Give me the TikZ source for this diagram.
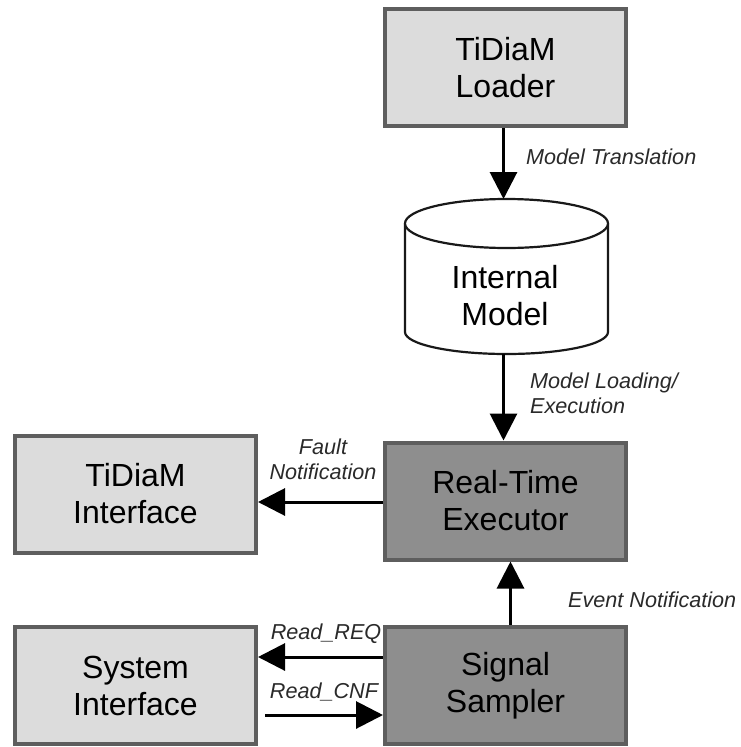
\documentclass[tikz,border=0pt]{standalone}
\usepackage{fontspec}
\setmainfont{Liberation Sans}
\usetikzlibrary{arrows.meta}
\definecolor{lightbox}{HTML}{DCDCDC}
\definecolor{darkbox}{HTML}{8E8E8E}
\definecolor{boxline}{HTML}{5E5E5E}
\definecolor{tagtext}{HTML}{2A2A2A}
\begin{document}
\begin{tikzpicture}[x=1pt,y=1pt,
  block/.style={draw=boxline, line width=4pt, minimum width=241pt,
    minimum height=117pt, align=center, inner sep=0pt,
    font=\fontsize{32}{37}\selectfont},
  lightblock/.style={block, fill=lightbox},
  darkblock/.style={block, fill=darkbox},
  flow/.style={line width=3pt, -{Triangle[width=27pt,length=27pt]}},
  tag/.style={font=\fontsize{21.6}{25}\selectfont\itshape, text=tagtext, inner sep=0pt},
  drum/.style={line width=2.2pt, draw=black!90}
]
\fill[white] (0,0) rectangle (741,-747);
\useasboundingbox (0,0) rectangle (741,-747);

% boxes
\node[lightblock] (loader)  at (505.5,-67.5) {TiDiaM\\Loader};
\node[darkblock]  (exec)    at (505.5,-501)  {Real-Time\\Executor};
\node[darkblock]  (sampler) at (505.5,-685.5){Signal\\Sampler};
\node[lightblock] (iface)   at (135.5,-494)  {TiDiaM\\Interface};
\node[lightblock] (sysif)   at (135.5,-685.5){System\\Interface};

% internal model store
\draw[drum, fill=white] (405,-223.5) -- (405,-332)
  arc[start angle=180, end angle=360, x radius=101.5, y radius=22] -- (608,-223.5);
\draw[drum, fill=white] (506.5,-223.5) ellipse[x radius=101.5, y radius=24.5];
\node[font=\fontsize{32}{37}\selectfont, align=center, inner sep=0pt] (model)
  at (505,-296) {Internal\\Model};
\coordinate (modeltop) at (503.5,-199);
\coordinate (modelbot) at (503.5,-354);

% connectors
\draw[flow] ([xshift=-2pt]loader.south) -- (modeltop);
\draw[flow] (modelbot) -- ([xshift=-2pt]exec.north);
\draw[flow] ([xshift=5pt]sampler.north) -- ([xshift=5pt]exec.south);
\draw[flow] ([yshift=-1pt]exec.west) -- ([yshift=-8pt]iface.east);
\draw[flow] ([yshift=28.5pt]sampler.west) -- ([yshift=28.5pt]sysif.east);
\draw[flow] ([xshift=7pt,yshift=-29.5pt]sysif.east) -- ([yshift=-29.5pt]sampler.west);

% connector labels
\node[tag, anchor=west] (ltrans) at (526,-157) {Model Translation};
\node[tag, anchor=west, align=left] (lload) at (530,-393.5) {Model Loading/\\Execution};
\node[tag, align=center] (lfault) at (323,-459.5) {Fault\\Notification};
\node[tag, anchor=west] (levent) at (568,-600) {Event Notification};
\node[tag] (lreq) at (326,-634) {Read\_REQ};
\node[tag] (lcnf) at (324,-692) {Read\_CNF};
\end{tikzpicture}
\end{document}
